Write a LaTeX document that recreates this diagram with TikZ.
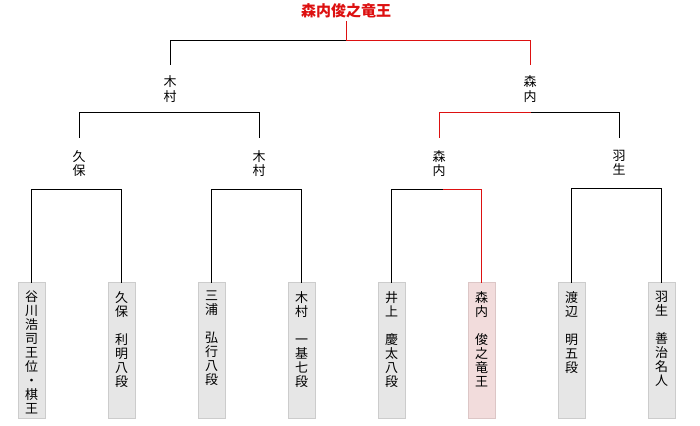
\documentclass[tikz,border=0pt]{standalone}
\usepackage{fontspec}
\usepackage{tikz}
\usetikzlibrary{calc,positioning}
\newfontfamily\jpfont{Noto Sans CJK JP}
\definecolor{fundo}{HTML}{FFFFFF}
\definecolor{aka}{HTML}{DD1111}
\definecolor{hai}{HTML}{E6E6E6}
\definecolor{haisen}{HTML}{CCCCCC}
\definecolor{momo}{HTML}{F2DCDC}
\definecolor{momosen}{HTML}{DCC6C6}
\tikzset{
  sen/.style={line width=1pt,line cap=rect},
  fuda/.style={draw=haisen,fill=hai,line width=1pt,minimum width=27pt,minimum height=136pt,inner sep=0pt,anchor=north},
  mei/.style={font=\jpfont\fontsize{13}{14}\selectfont,align=center,inner sep=0pt,anchor=north},
  kai/.style={font=\jpfont\fontsize{13}{15}\selectfont,align=center,inner xsep=0pt,inner ysep=10pt,anchor=north},
  kai2/.style={kai,font=\jpfont\fontsize{13}{14}\selectfont,inner ysep=13pt},
}
\newcommand{\senshu}[4]{\node[fuda,#3] (#1) at (#2,282) {};
  \node[mei] (#1m) at (#2,291) {#4};}

\begin{document}
\begin{tikzpicture}[x=1pt,y=-1pt]
      \useasboundingbox[fill=fundo] (0,0) rectangle (700,425);
      \node[font=\jpfont\bfseries\fontsize{15}{15}\selectfont,text=aka,inner ysep=4pt,anchor=south] (yusho) at (346,22) {森内俊之竜王};
      \node[kai] (r1a) at (170,65) {木\\村};
      \node[kai] (r1b) at (530,65) {森\\内};
      \node[kai2] (r2a) at (79,137) {久\\保};
      \node[kai2] (r2b) at (259,137) {木\\村};
      \node[kai2] (r2c) at (439,137) {森\\内};
      \node[kai2] (r2d) at (619,137) {羽\\生};
      \senshu{p1}{31.5}{}{谷\\川\\浩\\司\\王\\位\\・\\棋\\王}
      \senshu{p2}{121.5}{}{久\\保\\　\\利\\明\\八\\段}
      \senshu{p3}{211.5}{}{三\\浦\\　\\弘\\行\\八\\段}
      \senshu{p4}{301.5}{}{木\\村\\　\\一\\基\\七\\段}
      \senshu{p5}{391.5}{}{井\\上\\　\\慶\\太\\八\\段}
      \senshu{p6}{481.5}{fill=momo,draw=momosen}{森\\内\\　\\俊\\之\\竜\\王}
      \senshu{p7}{571.5}{}{渡\\辺\\　\\明\\五\\段}
      \senshu{p8}{661.5}{}{羽\\生\\　\\善\\治\\名\\人}
      \coordinate (j0) at (346,41);
      \begin{scope}[sen]
        \draw (j0) -| (r1a.north);
        \draw (r2a.north) |- (r1a.south) -| (r2b.north);
        \draw (r1b.south) -| (r2d.north);
        \draw (p1.north) |- (r2a.south) -| (p2.north);
        \draw (p3.north) |- (r2b.south) -| (p4.north);
        \draw (p5.north) |- ([xshift=4pt]r2c.south);
        \draw (p7.north) |- (r2d.south) -| (p8.north);
      \end{scope}
      \begin{scope}[sen,aka]
        \draw (yusho.south) -- (j0) -| (r1b.north);
        \draw (r2c.north) |- (r1b.south);
        \draw ([xshift=4pt]r2c.south) -| (p6.north);
      \end{scope}
    \end{tikzpicture}
\end{document}
